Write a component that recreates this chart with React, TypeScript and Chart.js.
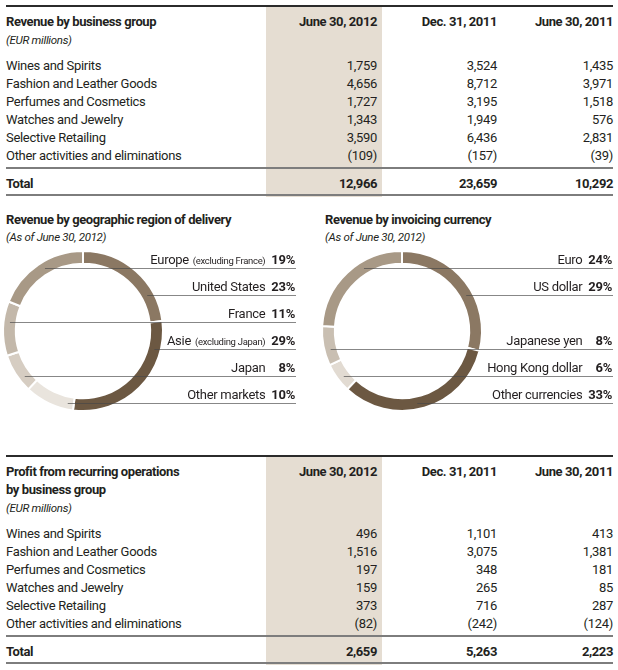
import React, { useEffect, useRef } from "react";
import { Chart, registerables } from "chart.js";

Chart.register(...registerables);

// ---------- DATA ----------
const columnHeaders = ["June 30, 2012", "Dec. 31, 2011", "June 30, 2011"];
const businessGroups = [
  "Wines and Spirits",
  "Fashion and Leather Goods",
  "Perfumes and Cosmetics",
  "Watches and Jewelry",
  "Selective Retailing",
  "Other activities and eliminations",
];
const revenueJun2012 = [1759, 4656, 1727, 1343, 3590, -109];
const revenueDec2011 = [3524, 8712, 3195, 1949, 6436, -157];
const revenueJun2011 = [1435, 3971, 1518, 576, 2831, -39];
const revenueTotals = [12966, 23659, 10292];

const profitJun2012 = [496, 1516, 197, 159, 373, -82];
const profitDec2011 = [1101, 3075, 348, 265, 716, -242];
const profitJun2011 = [413, 1381, 181, 85, 287, -124];
const profitTotals = [2659, 5263, 2223];

// doughnut data, in clockwise order from 12 o'clock
const regionLabels = ["United States", "Asie", "Other markets", "Japan", "France", "Europe"];
const regionNotes = ["", "(excluding Japan)", "", "", "", "(excluding France)"];
const regionShares = [23, 29, 10, 8, 11, 19];
const regionSlots = [1, 3, 5, 4, 2, 0];
const regionColors = ["#8b7863", "#6c5842", "#e9e4dd", "#d6cdc2", "#c3b8aa", "#a89986"];

const currencyLabels = ["US dollar", "Other currencies", "Hong Kong dollar", "Japanese yen", "Euro"];
const currencyNotes = ["", "", "", "", ""];
const currencyShares = [29, 33, 6, 8, 24];
const currencySlots = [1, 5, 4, 3, 0];
const currencyColors = ["#8b7863", "#6c5842", "#e2dbd2", "#c9bfb2", "#a89986"];

// ---------- STYLE ----------
const FONT = 'Roboto, "Liberation Sans", Arial, sans-serif';
const TEXT = "#231f20";
const BEIGE = "#e5ddd2";
const FS = 13;
const LS = "-0.3px";

const fmt = (v: number) =>
  v < 0 ? `(${Math.abs(v).toLocaleString("en-US")})` : v.toLocaleString("en-US");

function Txt(props: {
  x: number;
  y: number;
  text: string;
  align?: "left" | "right";
  bold?: boolean;
  italic?: boolean;
  size?: number;
}) {
  const { x, y, text, align = "left", bold, italic, size = FS } = props;
  const style: React.CSSProperties = {
    position: "absolute",
    top: y - 8,
    height: 18,
    lineHeight: "18px",
    fontFamily: FONT,
    fontSize: size,
    fontWeight: bold ? "bold" : "normal",
    fontStyle: italic ? "italic" : "normal",
    letterSpacing: bold ? "-0.4px" : LS,
    color: TEXT,
    whiteSpace: "nowrap",
  };
  if (align === "left") style.left = x;
  else {
    style.right = 618 - x;
    style.textAlign = "right";
  }
  return <div style={style}>{text}</div>;
}

function Rule(props: { y: number; color: string; h?: number }) {
  const h = props.h ?? 2;
  return (
    <div
      style={{
        position: "absolute",
        left: 6,
        width: 607,
        top: props.y - h / 2,
        height: h,
        background: props.color,
      }}
    />
  );
}

function Table(props: {
  top: number;
  titles: string[];
  cols: number[][];
  totals: number[];
}) {
  const { top, titles, cols, totals } = props;
  const extra = (titles.length - 1) * 18;
  const colRight = [377, 497, 613];
  const rowsStart = top + 59 + extra;
  const sepY = top + 162 + extra;
  const totalY = top + 177 + extra;
  const bottomY = top + 189 + extra;
  return (
    <>
      <div
        style={{
          position: "absolute",
          left: 266,
          width: 116,
          top: top,
          height: bottomY - top + 2,
          background: BEIGE,
        }}
      />
      <Rule y={top} color="#2b2b2b" />
      {titles.map((t, i) => (
        <Txt key={"t" + i} x={6} y={top + 15 + i * 18} text={t} bold />
      ))}
      {columnHeaders.map((h, i) => (
        <Txt key={"h" + i} x={colRight[i]} y={top + 15} text={h} bold align="right" />
      ))}
      <Txt x={6} y={top + 33 + extra} text="(EUR millions)" italic size={11.5} />
      {businessGroups.map((g, r) => (
        <React.Fragment key={"r" + r}>
          <Txt x={6} y={rowsStart + r * 18} text={g} />
          {cols.map((c, ci) => (
            <Txt key={ci} x={colRight[ci]} y={rowsStart + r * 18} text={fmt(c[r])} align="right" />
          ))}
        </React.Fragment>
      ))}
      <Rule y={sepY} color="#7d7d7d" />
      <Txt x={6} y={totalY} text="Total" bold />
      {totals.map((t, i) => (
        <Txt key={"tt" + i} x={colRight[i]} y={totalY} text={fmt(t)} bold align="right" />
      ))}
      <Rule y={bottomY} color="#7d7d7d" />
    </>
  );
}

function Ring(props: {
  left: number;
  top: number;
  width: number;
  height: number;
  cx: number;
  cy: number;
  radius: number;
  labels: string[];
  notes: string[];
  values: number[];
  colors: string[];
  slots: number[];
  lineRight: number;
}) {
  const ref = useRef<HTMLCanvasElement>(null);
  useEffect(() => {
    const p = props;
    const firstLineY = 23;
    const slotGap = 27;
    const leaders = {
      id: "leaders",
      afterDatasetsDraw(chart: any) {
        const ctx = chart.ctx as any;
        const meta = chart.getDatasetMeta(0);
        ctx.save();
        ctx.letterSpacing = LS;
        ctx.font = `bold ${FS}px ${FONT}`;
        const pctW = ctx.measureText("00%").width;
        meta.data.forEach((arc: any, i: number) => {
          const { x, y, startAngle, endAngle, innerRadius, outerRadius } = arc;
          const r = (innerRadius + outerRadius) / 2;
          const ly = firstLineY + p.slots[i] * slotGap;
          const s = Math.max(-1, Math.min(1, (ly - y) / r));
          const base = [Math.asin(s), Math.PI - Math.asin(s)];
          let best: number | null = null;
          base.forEach((a0) => {
            [-2 * Math.PI, 0, 2 * Math.PI].forEach((k) => {
              const a = a0 + k;
              if (a >= startAngle && a <= endAngle) {
                const px = x + r * Math.cos(a);
                if (best === null || px > best) best = px;
              }
            });
          });
          const startX = best === null ? x : best;
          ctx.strokeStyle = "rgba(70,70,70,0.65)";
          ctx.lineWidth = 1.2;
          ctx.beginPath();
          ctx.moveTo(startX, Math.round(ly) + 0.5);
          ctx.lineTo(p.lineRight, Math.round(ly) + 0.5);
          ctx.stroke();

          // labels
          const base2 = ly - 4;
          ctx.fillStyle = TEXT;
          ctx.textAlign = "right";
          ctx.textBaseline = "alphabetic";
          ctx.font = `bold ${FS}px ${FONT}`;
          ctx.fillText(`${p.values[i]}%`, p.lineRight - 1, base2);
          let nx = p.lineRight - 1 - pctW - 6;
          if (p.notes[i]) {
            ctx.font = `9.5px ${FONT}`;
            ctx.fillText(p.notes[i], nx, base2);
            nx -= ctx.measureText(p.notes[i]).width + 4;
          }
          ctx.font = `${FS}px ${FONT}`;
          ctx.fillText(p.labels[i], nx, base2);
        });
        ctx.restore();
      },
    };
    const chart = new Chart(ref.current!, {
      type: "doughnut",
      data: {
        labels: p.labels,
        datasets: [
          {
            data: p.values,
            backgroundColor: p.colors,
            borderColor: "#ffffff",
            borderWidth: 2,
            hoverOffset: 0,
          },
        ],
      },
      options: {
        responsive: false,
        animation: false,
        cutout: "84%",
        events: [],
        layout: {
          padding: {
            left: p.cx - p.radius,
            right: p.width - p.cx - p.radius,
            top: p.cy - p.radius,
            bottom: p.height - p.cy - p.radius,
          },
        },
        plugins: { legend: { display: false }, tooltip: { enabled: false } },
      },
      plugins: [leaders],
    });
    return () => chart.destroy();
  }, []);
  return (
    <canvas
      ref={ref}
      width={props.width}
      height={props.height}
      style={{ position: "absolute", left: props.left, top: props.top, width: props.width, height: props.height }}
    />
  );
}

export default function App() {
  return (
    <div
      style={{
        position: "absolute",
        left: 0,
        top: 0,
        width: 618,
        height: 670,
        background: "#ffffff",
        overflow: "hidden",
      }}
    >
      <Table
        top={6}
        titles={["Revenue by business group"]}
        cols={[revenueJun2012, revenueDec2011, revenueJun2011]}
        totals={revenueTotals}
      />

      <Txt x={6} y={219} text="Revenue by geographic region of delivery" bold />
      <Txt x={6} y={236} text="(As of June 30, 2012)" italic size={11.5} />
      <Txt x={325} y={219} text="Revenue by invoicing currency" bold />
      <Txt x={325} y={236} text="(As of June 30, 2012)" italic size={11.5} />

      <Ring
        left={0}
        top={245}
        width={300}
        height={172}
        cx={83}
        cy={86}
        radius={81}
        labels={regionLabels}
        notes={regionNotes}
        values={regionShares}
        colors={regionColors}
        slots={regionSlots}
        lineRight={296}
      />
      <Ring
        left={310}
        top={245}
        width={308}
        height={172}
        cx={92}
        cy={86}
        radius={81}
        labels={currencyLabels}
        notes={currencyNotes}
        values={currencyShares}
        colors={currencyColors}
        slots={currencySlots}
        lineRight={303}
      />

      <Table
        top={456}
        titles={["Profit from recurring operations", "by business group"]}
        cols={[profitJun2012, profitDec2011, profitJun2011]}
        totals={profitTotals}
      />
    </div>
  );
}
